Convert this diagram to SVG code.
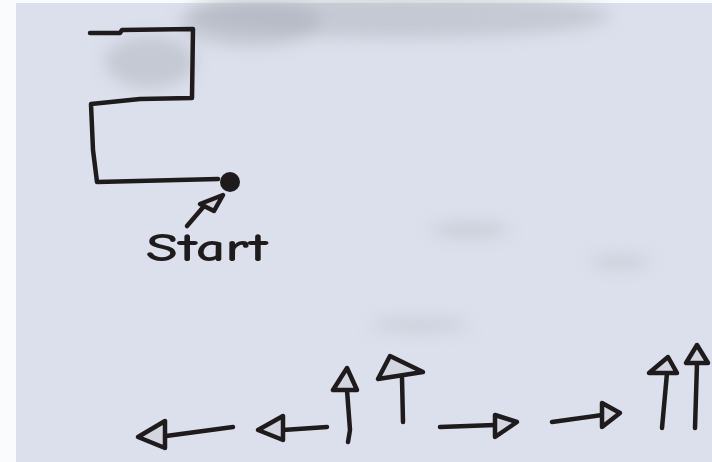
<svg xmlns="http://www.w3.org/2000/svg" width="712" height="462" viewBox="0 0 712 462">
<defs>
<style>
.ink{fill:none;stroke:#1f1b1c;stroke-width:4.5;stroke-linecap:round;stroke-linejoin:round}
.head{fill:#d3d6e0;stroke:#1f1b1c;stroke-width:4.5;stroke-linejoin:round}
.smudge{fill:#a9adb6;opacity:0.45}
.lbl{font-family:"Comic Neue","Liberation Sans",sans-serif;font-weight:bold;fill:#1f1b1c}
</style>
<filter id="blur" x="-20%" y="-50%" width="140%" height="200%"><feGaussianBlur stdDeviation="8"/></filter>
</defs>
<rect width="712" height="462" fill="#dce0ec"/>
<rect x="0" y="0" width="16" height="462" fill="#fafbfd"/>
<rect x="0" y="0" width="712" height="3" fill="#fafbfd"/>
<g filter="url(#blur)">
<ellipse class="smudge" cx="400" cy="16" rx="210" ry="22"/>
<ellipse class="smudge" cx="250" cy="22" rx="70" ry="25"/>
<ellipse class="smudge" cx="150" cy="62" rx="45" ry="26"/>
<ellipse class="smudge" cx="420" cy="325" rx="50" ry="5"/>
<ellipse class="smudge" cx="470" cy="230" rx="40" ry="6"/>
<ellipse class="smudge" cx="620" cy="262" rx="30" ry="5"/>
</g>
<g id="flag">
<path class="ink" d="M90,33 L120,33 L122,30 L193,29 L192,98 L140,99 L91,104 L93,150 L97,182 L218,179"/>
</g>
<g id="start-dot">
<circle cx="230" cy="182" r="10" fill="#1f1b1c"/>
</g>
<g id="start-label">
<text class="lbl" x="146" y="261" font-size="40" textLength="122" lengthAdjust="spacingAndGlyphs">Start</text>
</g>
<g id="connectors">
<path class="ink" d="M187,226 L205,205"/>
<path class="head" d="M200,204 L223,195 L214,211 Z"/>
<g id="arrow-left-1">
<path class="ink" d="M233,427 L166,436"/>
<path class="head" d="M138,437 L165,421 L165,448 Z"/>
</g>
<g id="arrow-left-2">
<path class="ink" d="M327,427 L283,430"/>
<path class="head" d="M258,430 L283,416 L283,440 Z"/>
</g>
<g id="arrow-up-1">
<path class="ink" d="M348,442 L350,430 L347,390"/>
<path class="head" d="M347,368 L333,390 L357,390 Z"/>
</g>
<g id="arrow-up-2">
<path class="ink" d="M403,422 L402,378"/>
<path class="head" d="M390,356 L378,379 L423,372 Z"/>
</g>
<g id="arrow-right-1">
<path class="ink" d="M440,427 L495,425"/>
<path class="head" d="M517,422 L495,415 L495,437 Z"/>
</g>
<g id="arrow-right-2">
<path class="ink" d="M552,422 L602,415"/>
<path class="head" d="M620,413 L602,403 L602,427 Z"/>
</g>
<g id="arrow-up-3">
<path class="ink" d="M662,428 L667,373"/>
<path class="head" d="M668,357 L649,373 L677,373 Z"/>
</g>
<g id="arrow-up-4">
<path class="ink" d="M695,428 L697,363"/>
<path class="head" d="M697,345 L686,363 L708,363 Z"/>
</g>
</g>
</svg>
